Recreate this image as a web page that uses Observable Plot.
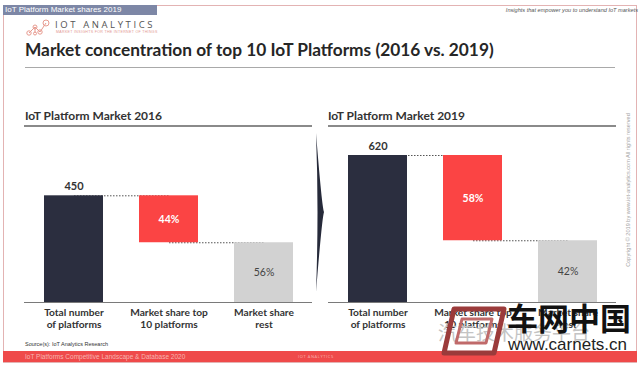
<!DOCTYPE html>
<html>
<head>
<meta charset="utf-8">
<script src="https://cdn.jsdelivr.net/npm/d3@7"></script>
<script src="https://cdn.jsdelivr.net/npm/@observablehq/plot@0.6"></script>
<style>
  html, body { margin: 0; padding: 0; background: #fff; overflow: hidden; }
  #page { position: relative; width: 640px; height: 367px; font-family: Lato, "Open Sans", sans-serif; color: #333; overflow: hidden; }
  .abs { position: absolute; white-space: nowrap; }
</style>
</head>
<body>
<div id="page">
  <!-- slide frame -->
  <div class="abs" style="left:3px;top:5px;width:632px;height:356px;border:1px solid #e3b3b3;"></div>
  <div class="abs" style="left:3px;top:5px;width:152px;height:10px;background:#7d87a6;color:#fff;font-size:8px;line-height:10px;padding-left:2px;font-family:'Liberation Sans',sans-serif;">IoT Platform Market shares 2019</div>
  <div class="abs" style="right:2px;top:7px;font-size:5.6px;font-style:italic;color:#555;font-family:'Liberation Sans',sans-serif;">Insights that empower you to understand IoT markets</div>

  <!-- logo -->
  <svg class="abs" style="left:24px;top:18px;" width="30" height="20">
    <g stroke="#e79a8f" stroke-width="1" fill="none">
      <line x1="5" y1="15" x2="11" y2="9"/><line x1="11" y1="9" x2="16" y2="14"/><line x1="16" y1="14" x2="22" y2="5"/><line x1="11" y1="9" x2="11" y2="15"/>
      <circle cx="5" cy="15" r="2.2"/><circle cx="11" cy="9" r="2"/><circle cx="16" cy="14" r="2.2"/><circle cx="22" cy="5" r="3"/><circle cx="11" cy="15.5" r="1.5"/>
    </g>
  </svg>
  <div class="abs" style="left:55px;top:18px;font-size:9.5px;letter-spacing:2.6px;color:#555;font-family:'Open Sans',sans-serif;">IOT ANALYTICS</div>
  <div class="abs" style="left:56px;top:30px;font-size:3.6px;letter-spacing:0.3px;color:#e39a93;font-family:'Liberation Sans',sans-serif;">MARKET INSIGHTS FOR THE INTERNET OF THINGS</div>

  <!-- title -->
  <div class="abs" style="left:25px;top:39px;font-size:17.3px;font-weight:700;color:#262626;">Market concentration of top 10 IoT Platforms (2016 vs. 2019)</div>
  <div class="abs" style="left:25px;top:67px;width:590px;height:1px;background:#a9a9a9;"></div>

  <!-- panel titles -->
  <div class="abs" style="left:25px;top:108px;font-size:12px;font-weight:700;color:#333;">IoT Platform Market 2016</div>
  <div class="abs" style="left:24px;top:125px;width:288px;height:1.5px;background:#8a8a8a;"></div>
  <div class="abs" style="left:328px;top:108px;font-size:12px;font-weight:700;color:#333;">IoT Platform Market 2019</div>
  <div class="abs" style="left:328px;top:125px;width:288px;height:1.5px;background:#8a8a8a;"></div>

  <!-- chevron -->
  <svg class="abs" style="left:310px;top:128px;" width="20" height="170">
    <path d="M6,5 Q12,80 14,84 Q12,90 6,164 Q9,84 6,5 Z" fill="#262a3a"/>
  </svg>

  <div id="chart" class="abs" style="left:24px;top:130px;"></div>

  <!-- vertical copyright -->
  <div class="abs" style="left:628px;top:190px;transform:translate(-50%,-50%) rotate(-90deg);font-size:5.6px;color:#a5a5a5;font-family:'Liberation Sans',sans-serif;">Copyright © 2019 by www.iot-analytics.com All rights reserved</div>

  <!-- source + footer -->
  <div class="abs" style="left:25px;top:341px;font-size:5.5px;color:#333;font-family:'Liberation Sans',sans-serif;">Source(s): IoT Analytics Research</div>
  <div class="abs" style="left:3px;top:351px;width:634px;height:11px;background:#ef4a4a;"></div>
  <div class="abs" style="left:25px;top:352px;font-size:6.5px;line-height:9px;color:#f7b4b0;font-family:'Liberation Sans',sans-serif;">IoT Platforms Competitive Landscape &amp; Database 2020</div>
  <div class="abs" style="left:298px;top:353px;font-size:4px;line-height:8px;letter-spacing:0.6px;color:#f7b4b0;font-family:'Open Sans',sans-serif;">IOT ANALYTICS</div>

  <!-- watermark -->
  <div class="abs" style="left:438px;top:322px;font-size:19px;color:#c4c4c4;font-family:'Noto Sans CJK SC',sans-serif;line-height:20px;">汽车技术服务平台</div>
  <svg class="abs" style="left:440px;top:305px;" width="68" height="52">
    <path d="M14,4 L64,4 L54,48 L4,48 Z" fill="none" stroke="#9b3b3b" stroke-width="5" stroke-linejoin="round"/>
    <path d="M22,14 L52,14 L46,38 L16,38 Z" fill="none" stroke="#c06a6a" stroke-width="3" stroke-linejoin="round"/>
  </svg>
  <div class="abs" style="left:507px;top:297px;font-size:31px;font-weight:700;color:#111;font-family:'Noto Sans CJK SC',sans-serif;line-height:40px;">车网中国</div>
  <div class="abs" style="left:508px;top:336px;font-size:17px;color:#222;font-family:'Liberation Sans',sans-serif;line-height:18px;">www.carnets.cn</div>
</div>

<script>
const years = ["2016", "2019"];
const categories = ["Total number\nof platforms", "Market share top\n10 platforms", "Market share\nrest"];
const totals = [450, 620];
const top10Shares = [44, 58];
const restShares = [56, 42];

const colors = ["#2b2e3f", "#fb4444", "#d2d2d2"];

const bars = [];
const links = [];
years.forEach((year, i) => {
  const total = totals[i];
  const restValue = total * restShares[i] / 100;
  bars.push({year, cat: categories[0], y1: 0, y2: total, color: colors[0]});
  bars.push({year, cat: categories[1], y1: restValue, y2: total, color: colors[1]});
  bars.push({year, cat: categories[2], y1: 0, y2: restValue, color: colors[2]});
  links.push({year, x1: categories[0], x2: categories[1], y: total});
  links.push({year, x1: categories[1], x2: categories[2], y: restValue});
});
const totalLabels = years.map((year, i) => ({year, cat: categories[0], y: totals[i], text: String(totals[i])}));
const topLabels = years.map((year, i) => ({year, cat: categories[1], y: totals[i] * (1 - top10Shares[i] / 200), text: top10Shares[i] + "%"}));
const restLabels = years.map((year, i) => ({year, cat: categories[2], y: totals[i] * restShares[i] / 200, text: restShares[i] + "%"}));

const chart = Plot.plot({
  width: 592,
  height: 212,
  marginTop: 25,
  marginBottom: 40,
  marginLeft: 0,
  marginRight: 0,
  style: {fontFamily: "Lato, 'Open Sans', sans-serif", background: "transparent"},
  fx: {domain: years, paddingInner: 0.054, paddingOuter: 0, axis: null, label: null},
  x: {domain: categories, paddingInner: 0.38, paddingOuter: 0.2, axis: null},
  y: {domain: [0, 620], axis: null},
  marks: [
    Plot.link(links, {fx: "year", x1: "x1", x2: "x2", y1: "y", y2: "y", stroke: "#555", strokeWidth: 1, strokeDasharray: "1.5,1.5"}),
    Plot.barY(bars, {fx: "year", x: "cat", y1: "y1", y2: "y2", fill: "color"}),
    Plot.ruleY([0], {stroke: "#7a7a7a", strokeWidth: 1}),
    Plot.text(totalLabels, {fx: "year", x: "cat", y: "y", text: "text", dy: -9, fill: "#333", fontWeight: 700, fontSize: 11}),
    Plot.text(topLabels, {fx: "year", x: "cat", y: "y", text: "text", fill: "#fff", fontWeight: 700, fontSize: 10.5}),
    Plot.text(restLabels, {fx: "year", x: "cat", y: "y", text: "text", fill: "#444", fontWeight: 400, fontSize: 10.5}),
    Plot.text(categories, {x: d => d, text: d => d, frameAnchor: "bottom", lineAnchor: "top", dy: 4, lineHeight: 1.25, fill: "#333", fontWeight: 700, fontSize: 10.2})
  ]
});
document.getElementById("chart").appendChild(chart);
</script>
</body>
</html>
